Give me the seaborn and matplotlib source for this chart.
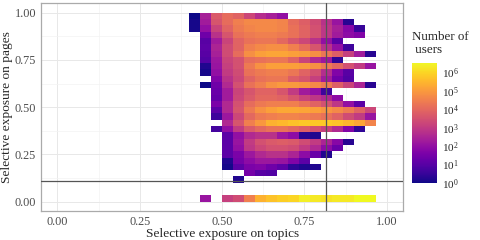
import numpy as np
import pandas as pd
import matplotlib
matplotlib.use("Agg")
import matplotlib.pyplot as plt
from matplotlib.ticker import MultipleLocator, NullLocator, LogLocator
import seaborn as sns

sns.set_style("white")
plt.rcParams["font.family"] = ["Liberation Serif", "DejaVu Serif"]
plt.rcParams["mathtext.fontset"] = "custom"
plt.rcParams["mathtext.rm"] = "Liberation Serif"

# 2D histogram, bins of 1/30 on both axes
n_bins = 30
topic_edges = np.arange(12, 30) / n_bins      # 0.400 ... 0.967
page_edges = np.arange(0, 31) / n_bins        # 0.000 ... 1.000

# lower-edge bin index of each page row, first topic bin of the row,
# and log10(number of users) for each cell (None = empty)
page_rows = [29, 28, 27, 26, 25, 24, 23, 22, 21, 20, 19, 18, 17, 16,
             15, 14, 13, 12, 11, 10, 9, 8, 7, 6, 5, 4, 3, 0]
first_topic_bin = [12, 12, 12, 13, 13, 13, 13, 13, 13, 13, 14, 13, 14, 14,
                   14, 14, 14, 15, 14, 15, 15, 15, 15, 15, 15, 17, 16, 13]
log10_users = [
    [0, 2.4, 3.7, 4.1, 3.9, 3.3, 2.7, 2.4, 2.0],
    [0.1, 2.3, 3.6, 4.1, 4.5, 4.7, 4.7, 4.7, 4.6, 4.1, 3.8, 3.4, 2.8, 2.1, 0.3],
    [0.1, 2.0, 3.2, 3.9, 4.4, 4.6, 4.7, 4.7, 4.6, 4.2, 3.9, 3.5, 2.9, 2.4, 1.8, 0.5],
    [1.4, 2.8, 3.6, 4.2, 4.4, 4.5, 4.5, 4.4, 4.2, 3.9, 3.5, 2.9, 2.3, 1.9, 1.7],
    [1.0, 2.3, 3.2, 3.9, 4.2, 4.3, 4.3, 4.0, 3.6, 3.3, 2.8, 2.0, 1.0],
    [1.1, 2.5, 3.4, 3.9, 4.5, 4.7, 4.8, 4.8, 4.5, 4.1, 3.6, 2.8, 2.0, 0.6],
    [1.0, 2.4, 3.4, 4.1, 4.8, 5.1, 5.2, 5.2, 5.1, 5.0, 4.8, 4.3, 3.8, 3.1, 2.3, 0.3],
    [0.9, 2.2, 3.2, 3.5, 4.1, 4.2, 4.3, 4.3, 3.9, 3.2, 2.6, 2.2, 0.4],
    [0.2, 2.1, 3.1, 3.5, 4.4, 4.85, 5.1, 5.1, 5.1, 5.0, 4.8, 4.4, 4.0, 3.5, 3.0, 2.1],
    [0.1, 2.0, 3.0, 3.4, 4.2, 4.4, 4.5, 4.5, 4.3, 3.9, 3.5, 2.7, 1.7, 1.0],
    [1.7, 2.8, 3.3, 3.9, 4.2, 4.3, 4.3, 3.8, 3.6, 3.1, 2.3, 1.4, 0.9],
    [0, 1.4, 2.6, 3.5, 4.2, 4.5, 4.85, 5.0, 5.0, 4.9, 4.7, 4.4, 3.8, 3.2, 2.5, 0.3],
    [1.3, 2.3, 3.2, 3.6, 3.9, 3.9, 3.6, 3.0, 2.3, 2.0, 0.6],
    [1.2, 2.3, 3.3, 3.7, 4.0, 4.0, 3.9, 3.6, 3.2, 2.9, 2.6, 1.9],
    [1.6, 2.6, 3.5, 4.1, 4.35, 4.5, 4.5, 4.5, 4.2, 3.9, 3.5, 2.9, 2.0, 1.1],
    [1.1, 2.6, 3.6, 4.35, 4.85, 5.1, 5.25, 5.25, 5.2, 5.1, 4.9, 4.7, 4.4, 3.9, 3.3],
    [0.6, 2.2, 3.3, 4.0, 4.35, 4.5, 4.6, 4.6, 4.5, 4.4, 4.2, 3.9, 3.4, 3.0, 2.1],
    [2.6, 3.6, 4.5, 4.95, 5.4, 5.55, 5.7, 5.8, 5.8, 5.8, 5.7, 5.5, 5.2, 4.6],
    [0.7, 2.0, 3.0, 3.7, 4.0, 4.2, 4.2, 4.0, 3.8, 3.5, 3.1, 2.6, 1.7, 0.4],
    [1.1, 2.0, 2.6, 2.8, 2.8, 2.2, 1.9, 0.3, 0.2],
    [1.1, 2.1, 3.0, 3.5, 3.7, 3.8, 3.7, 3.4, 3.0, 2.5, 1.8, 0.3],
    [1.1, 2.0, 2.9, 3.3, 3.5, 3.5, 3.4, 3.0, 2.6, 1.9, 1.3],
    [1.1, 1.6, 2.2, 2.6, 2.8, 2.8, 2.5, 1.9, 1.3, 0.2],
    [0.2, 1.5, 1.9, 2.2, 2.2, 2.1, 1.7, 1.1],
    [0.1, 1.1, 1.6, 1.7, 1.4, 1.1, 0.4, 0.2, 0.2],
    [1.5, 1.0, 0.9],
    [0.2],
    [2.1, None, 3.1, 3.4, 4.5, 5.4, 5.7, 5.9, 6.0, 6.4, 6.3, 6.2, 6.3, 6.3, 6.55, 6.55],
]
max_users = 10 ** 6.55

# reference lines
topic_cut = 0.815
page_cut = 0.107

records = []
for row, start, vals in zip(page_rows, first_topic_bin, log10_users):
    for j, v in enumerate(vals):
        if v is None:
            continue
        records.append({"topics": (start + j + 0.5) / n_bins,
                        "pages": (row + 0.5) / n_bins,
                        "users": 10 ** v})
df = pd.DataFrame(records)

fig = plt.figure(figsize=(4.8, 2.4), dpi=100)
ax = fig.add_axes([41 / 480, 1 - 211 / 240, 362.3 / 480, 207.7 / 240])
cax = fig.add_axes([412.3 / 480, 1 - 183 / 240, 24.4 / 480, 120.5 / 240])

sns.histplot(data=df, x="topics", y="pages", weights="users",
             bins=[topic_edges, page_edges],
             cmap="plasma", norm="log", vmin=1, vmax=max_users,
             cbar=False, ax=ax)

ax.axvline(topic_cut, color="#555555", lw=0.9, zorder=5)
ax.axhline(page_cut, color="#555555", lw=0.9, zorder=5)

ax.set_xlim(-0.05, 1.05)
ax.set_ylim(-0.05, 1.05)
for a in (ax.xaxis, ax.yaxis):
    a.set_major_locator(MultipleLocator(0.25))
    a.set_minor_locator(MultipleLocator(0.125))
    a.set_major_formatter(lambda v, p: f"{v:.2f}")
ax.set_axisbelow(True)
ax.grid(which="major", color="#e8e8e8", lw=0.7)
ax.grid(which="minor", color="#f3f3f3", lw=0.5)
for s in ax.spines.values():
    s.set_color("#aaaaaa")
    s.set_linewidth(0.9)
ax.tick_params(which="major", length=2.5, width=0.6, color="#aaaaaa",
               labelsize=8.8, labelcolor="#4d4d4d", pad=1.0)
ax.tick_params(which="minor", length=0)
ax.set_xlabel("Selective exposure on topics", fontsize=9.6)
ax.set_ylabel("Selective exposure on pages", fontsize=9.6)
ax.xaxis.set_label_coords(0.5, -0.082)
ax.yaxis.set_label_coords(-0.076, 0.5)

cb = fig.colorbar(ax.collections[0], cax=cax)
cb.outline.set_visible(False)
cb.ax.yaxis.set_major_locator(LogLocator(base=10, numticks=10))
cb.ax.yaxis.set_minor_locator(NullLocator())
cb.ax.tick_params(left=True, right=True, direction="in", length=4.5,
                  width=0.6, color="white", labelsize=8, pad=4)
fig.text(412.5 / 480, 1 - 31 / 240, "Number of\n users", fontsize=9.4,
         va="top", ha="left", linespacing=1.15)

fig.savefig("out.png", dpi=100, facecolor="white")
